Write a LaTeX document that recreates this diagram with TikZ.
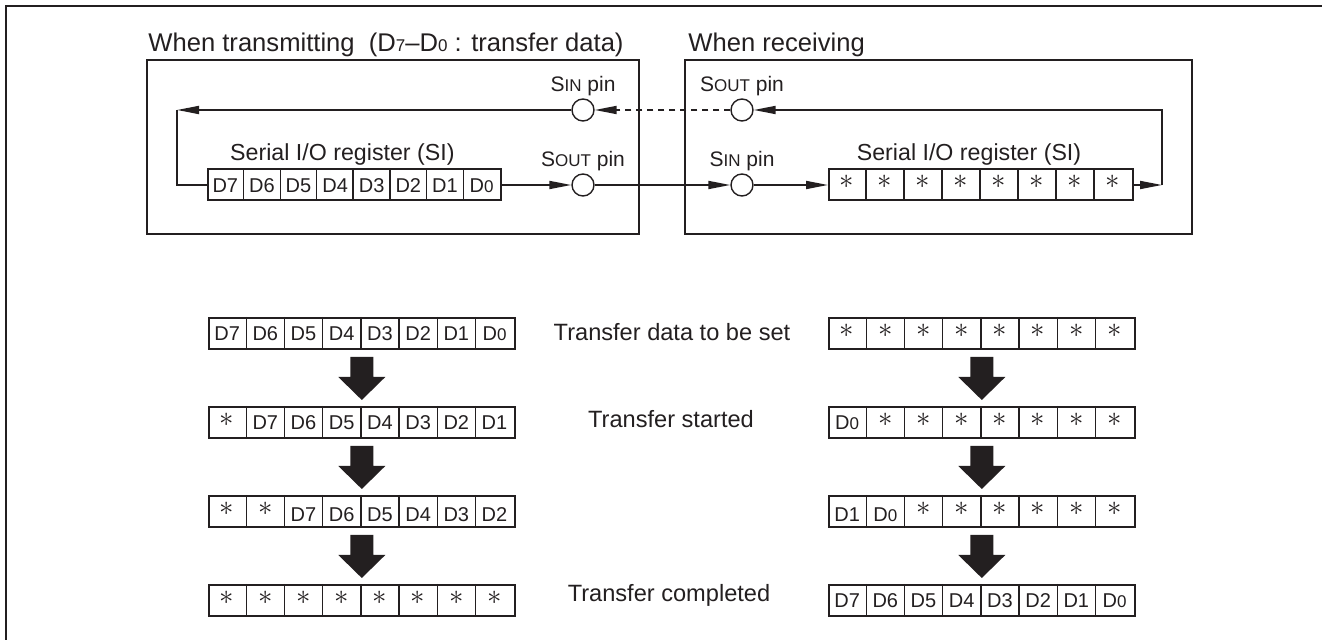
\documentclass[tikz,border=0pt]{standalone}
\usepackage{fontspec}
\setmainfont{Liberation Sans}
\usetikzlibrary{positioning, calc, arrows.meta}
\definecolor{ink}{RGB}{35,31,32}
\tikzset{
  wire/.style={draw=ink, line width=0.9pt},
  tip/.style={-{Triangle[length=11pt,width=4pt]}},
  boxframe/.style={draw=ink, line width=1.15pt},
  pin/.style={circle, draw=ink, line width=0.7pt, minimum size=11pt, inner sep=0pt},
  pinlabel/.style={font=\fontsize{10.5}{12}\selectfont, text=ink, inner sep=0pt},
  regbox/.style={draw=ink, line width=1pt, minimum height=15.5pt, inner sep=0pt},
  reglabel/.style={font=\fontsize{11.6}{14}\selectfont, text=ink, inner sep=0pt},
  cell/.style={font=\fontsize{10}{12}\selectfont, text=ink, text height=7.2pt, text depth=0pt, inner sep=0pt},
  divider/.style={draw=ink, line width=0.6pt},
  heading/.style={font=\fontsize{12.8}{15}\selectfont, text=ink, anchor=base west, inner sep=0pt},
  steplabel/.style={font=\fontsize{11.8}{14}\selectfont, text=ink, anchor=base, inner sep=0pt},
  fatarrow/.style={fill=ink}
}
\newcommand{\smallpart}[1]{{\fontsize{8.5}{10}\selectfont #1}}
\newcommand{\stc}{\raisebox{1.8pt}{\fontsize{13.5}{14}\selectfont$\ast$}}
\newcommand{\dz}{D{\fontsize{8.5}{10}\selectfont 0}}
\newcommand{\lowd}[1]{\raisebox{-1.3pt}{#1}}
% register of 8 cells: name, placement, cell width (pt), contents
\newcommand{\siregister}[4]{%
  \node[regbox, minimum width={8*#3pt}, #2] (#1) {};
  \foreach \c [count=\i] in {#4}
    \node[cell] at ([xshift={(\i-0.5)*#3pt}]#1.west) {\c};
  \foreach \i in {1,...,7}
    \draw[divider] ([xshift=\i*#3pt]#1.north west) -- ([xshift=\i*#3pt]#1.south west);
  \draw[draw=ink, line width=1pt] ([xshift=4*#3pt]#1.north west) -- ([xshift=4*#3pt]#1.south west);
}
% big shift arrow between two registers
\newcommand{\shiftdown}[2]{%
  \fill[fatarrow] ($(#1.south)+(-11.5,7)$) -- ($(#1.south)+(11.5,7)$)
    -- ($(#1.south)+(11.5,27)$) -- ($(#1.south)+(23.5,27)$)
    -- ($(#2.north)+(0,-6)$)
    -- ($(#1.south)+(-23.5,27)$) -- ($(#1.south)+(-11.5,27)$) -- cycle;
}

\begin{document}
\begin{tikzpicture}[x=0.5pt, y=-0.5pt]
  \useasboundingbox (0,0) rectangle (1322,640);
  \draw[ink, line width=1.25pt] (6,640) -- (6,6) -- (1322,6);

  % transmitting / receiving
  \node[heading] (txhead) at (148,52) {When transmitting\ \ (D{\fontsize{8.5}{9}\selectfont 7}--D{\fontsize{8.5}{9}\selectfont 0} : transfer data)};
  \node[heading] (rxhead) at (688,52) {When receiving};
  \draw[boxframe] (147,60) rectangle (639,234);
  \draw[boxframe] (685,60) rectangle (1192,234);

  \node[pin] (sinL) at (583,110) {};
  \node[pin] (soutL) at (583,185) {};
  \node[pin] (soutR) at (742,110) {};
  \node[pin] (sinR) at (742,185) {};
  \node[pinlabel, above=0.8pt of sinL] {S\smallpart{IN} pin};
  \node[pinlabel, above=0.8pt of soutL] {S\smallpart{OUT} pin};
  \node[pinlabel, above=0.8pt of soutR] {S\smallpart{OUT} pin};
  \node[pinlabel, above=0.8pt of sinR] {S\smallpart{IN} pin};
  \coordinate (bendL) at (177,110);
  \coordinate (bendR) at (1162,185);

  \siregister{txreg}{anchor=west, at={(207,185)}}{18.3}{D7,D6,D5,D4,D3,D2,D1,\dz}
  \siregister{rxreg}{anchor=west, at={(828,185)}}{19}{\stc,\stc,\stc,\stc,\stc,\stc,\stc,\stc}
  \node[reglabel, above=1.5pt of txreg, xshift=-6pt] {Serial I/O register (SI)};
  \node[reglabel, above=1.5pt of rxreg, xshift=-6pt] {Serial I/O register (SI)};

  \draw[wire, tip] (sinL) -- (bendL);
  \draw[wire] (bendL) |- (txreg.west);
  \draw[wire, tip] (txreg.east) -- (soutL);
  \draw[wire, tip] (soutL) -- (sinR);
  \draw[wire, tip, dash pattern=on 3pt off 2.5pt] (soutR) -- (sinL);
  \draw[wire, tip] (sinR) -- (rxreg.west);
  \draw[wire, tip] (rxreg.east) -- (bendR);
  \draw[wire, tip] (bendR) |- (soutR);

  % shifting sequence
  \siregister{l1}{anchor=north west, at={(208,317)}}{19.1}{D7,D6,D5,D4,D3,D2,D1,\dz}
  \siregister{l2}{below=28pt of l1}{19.1}{\stc,D7,D6,D5,D4,D3,D2,D1}
  \siregister{l3}{below=28pt of l2}{19.1}{\stc,\stc,\lowd{D7},\lowd{D6},\lowd{D5},\lowd{D4},\lowd{D3},\lowd{D2}}
  \siregister{l4}{below=28pt of l3}{19.1}{\stc,\stc,\stc,\stc,\stc,\stc,\stc,\stc}
  \siregister{r1}{anchor=north west, at={(828,317)}}{19.1}{\stc,\stc,\stc,\stc,\stc,\stc,\stc,\stc}
  \siregister{r2}{below=28pt of r1}{19.1}{\dz,\stc,\stc,\stc,\stc,\stc,\stc,\stc}
  \siregister{r3}{below=28pt of r2}{19.1}{\lowd{D1},\lowd{\dz},\stc,\stc,\stc,\stc,\stc,\stc}
  \siregister{r4}{below=28pt of r3}{19.1}{D7,D6,D5,D4,D3,D2,D1,\dz}

  \shiftdown{l1}{l2}
  \shiftdown{l2}{l3}
  \shiftdown{l3}{l4}
  \shiftdown{r1}{r2}
  \shiftdown{r2}{r3}
  \shiftdown{r3}{r4}

  \node[steplabel] (set) at (672,341) {Transfer data to be set};
  \node[steplabel] (start) at (671,428) {Transfer started};
  \node[steplabel] (done) at (669,601.5) {Transfer completed};
\end{tikzpicture}
\end{document}
